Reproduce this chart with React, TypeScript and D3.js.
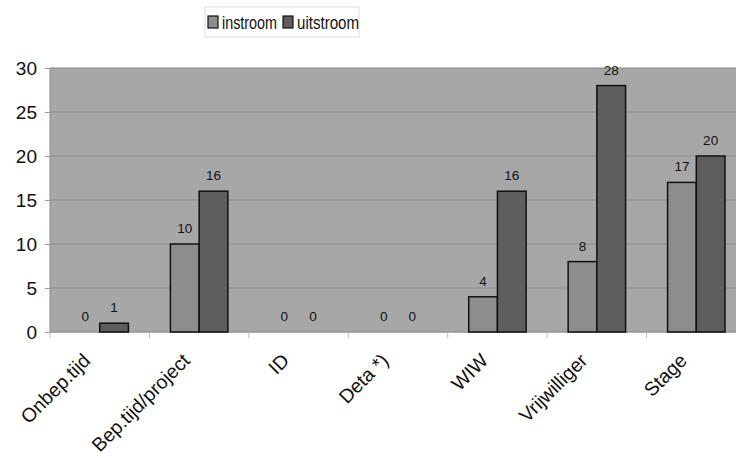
import { useEffect, useRef } from "react";
import * as d3 from "d3";

const categories = ["Onbep.tijd", "Bep.tijd/project", "ID", "Deta *)", "WIW", "Vrijwilliger", "Stage"];
const series = ["instroom", "uitstroom"];
const instroom = [0, 10, 0, 0, 4, 8, 17];
const uitstroom = [1, 16, 0, 0, 16, 28, 20];
const yTicks = [0, 5, 10, 15, 20, 25, 30];

const colors: Record<string, string> = { instroom: "#8d8d8d", uitstroom: "#5e5e5e" };

export default function App() {
  const svgRef = useRef<SVGSVGElement>(null);

  useEffect(() => {
    if (!svgRef.current) return;
    const svg = d3.select(svgRef.current);
    svg.selectAll("*").remove();

    const margin = { top: 68, left: 50, bottom: 126 };
    const plotRight = 746;
    const height = 458 - margin.bottom;
    const font = "'Liberation Sans', Arial, sans-serif";

    const x0 = d3.scaleBand().domain(categories).range([margin.left, plotRight]).padding(0);
    const x1 = d3
      .scaleBand()
      .domain(series)
      .range([21, x0.bandwidth() - 21])
      .padding(0);
    const y = d3.scaleLinear().domain([0, 30]).range([height, margin.top]);

    // plot background
    svg
      .append("rect")
      .attr("x", margin.left)
      .attr("y", margin.top)
      .attr("width", plotRight - margin.left)
      .attr("height", height - margin.top)
      .attr("fill", "#a7a7a7")
      .attr("stroke", "#8a8a8a");

    // gridlines
    svg
      .append("g")
      .selectAll("line")
      .data(yTicks.filter((t) => t > 0 && t < 30))
      .join("line")
      .attr("x1", margin.left)
      .attr("x2", plotRight)
      .attr("y1", (d) => y(d))
      .attr("y2", (d) => y(d))
      .attr("stroke", "#8c8c8c")
      .attr("stroke-width", 1);

    // y axis
    const yAxis = svg
      .append("g")
      .attr("transform", `translate(${margin.left},0)`)
      .call(d3.axisLeft(y).tickValues(yTicks).tickSize(5).tickPadding(8));
    yAxis.select(".domain").attr("stroke", "#999");
    yAxis.selectAll(".tick line").attr("stroke", "#999");
    yAxis
      .selectAll("text")
      .attr("font-family", font)
      .attr("font-size", 19)
      .attr("fill", "#111");

    // x axis
    const xAxis = svg.append("g").attr("transform", `translate(0,${height})`);
    xAxis
      .append("line")
      .attr("x1", margin.left)
      .attr("x2", plotRight)
      .attr("stroke", "#999");
    xAxis
      .selectAll(".tk")
      .data(categories)
      .join("line")
      .attr("class", "tk")
      .attr("x1", (d) => x0(d)!)
      .attr("x2", (d) => x0(d)!)
      .attr("y1", 0)
      .attr("y2", 6)
      .attr("stroke", "#bbb");
    xAxis
      .selectAll("text")
      .data(categories)
      .join("text")
      .attr("transform", (d) => `translate(${x0(d)! + x0.bandwidth() / 2 - 13},${25}) rotate(-45)`)
      .attr("text-anchor", "end")
      .attr("dy", "0.35em")
      .attr("font-family", font)
      .attr("font-size", 19.5)
      .attr("fill", "#111")
      .text((d) => d);

    const data = categories.map((c, i) => ({ c, vals: [instroom[i], uitstroom[i]] }));

    const groups = svg
      .append("g")
      .selectAll("g")
      .data(data)
      .join("g")
      .attr("transform", (d) => `translate(${x0(d.c)},0)`);

    groups
      .selectAll("rect")
      .data((d) => d.vals.map((v, j) => ({ s: series[j], v })))
      .join("rect")
      .filter((d) => d.v > 0)
      .attr("x", (d) => x1(d.s)!)
      .attr("y", (d) => y(d.v))
      .attr("width", x1.bandwidth())
      .attr("height", (d) => y(0) - y(d.v))
      .attr("fill", (d) => colors[d.s])
      .attr("stroke", "#111")
      .attr("stroke-width", 1.5);

    groups
      .selectAll("text")
      .data((d) => d.vals.map((v, j) => ({ s: series[j], v })))
      .join("text")
      .attr("x", (d) => x1(d.s)! + x1.bandwidth() / 2)
      .attr("y", (d) => y(d.v) - 11)
      .attr("text-anchor", "middle")
      .attr("font-family", font)
      .attr("font-size", 13.5)
      .attr("fill", "#111")
      .text((d) => d.v);

    // legend
    const legend = svg.append("g");
    legend
      .append("rect")
      .attr("x", 205)
      .attr("y", 7)
      .attr("width", 154)
      .attr("height", 30)
      .attr("fill", "#fff")
      .attr("stroke", "#ddd");
    const items = [
      { s: "instroom", x: 208, w: 55 },
      { s: "uitstroom", x: 283, w: 62 },
    ];
    items.forEach((it) => {
      legend
        .append("rect")
        .attr("x", it.x)
        .attr("y", 16)
        .attr("width", 10)
        .attr("height", 12)
        .attr("fill", colors[it.s])
        .attr("stroke", "#111")
        .attr("stroke-width", 1.2);
      legend
        .append("text")
        .attr("x", it.x + 14)
        .attr("y", 29)
        .attr("font-family", font)
        .attr("font-size", 18.5)
        .attr("textLength", it.w)
        .attr("lengthAdjust", "spacingAndGlyphs")
        .attr("fill", "#111")
        .text(it.s);
    });
  }, []);

  return (
    <div style={{ position: "absolute", left: 0, top: 0 }}>
      <svg ref={svgRef} width={736} height={458} style={{ display: "block", background: "#fff" }} />
    </div>
  );
}
